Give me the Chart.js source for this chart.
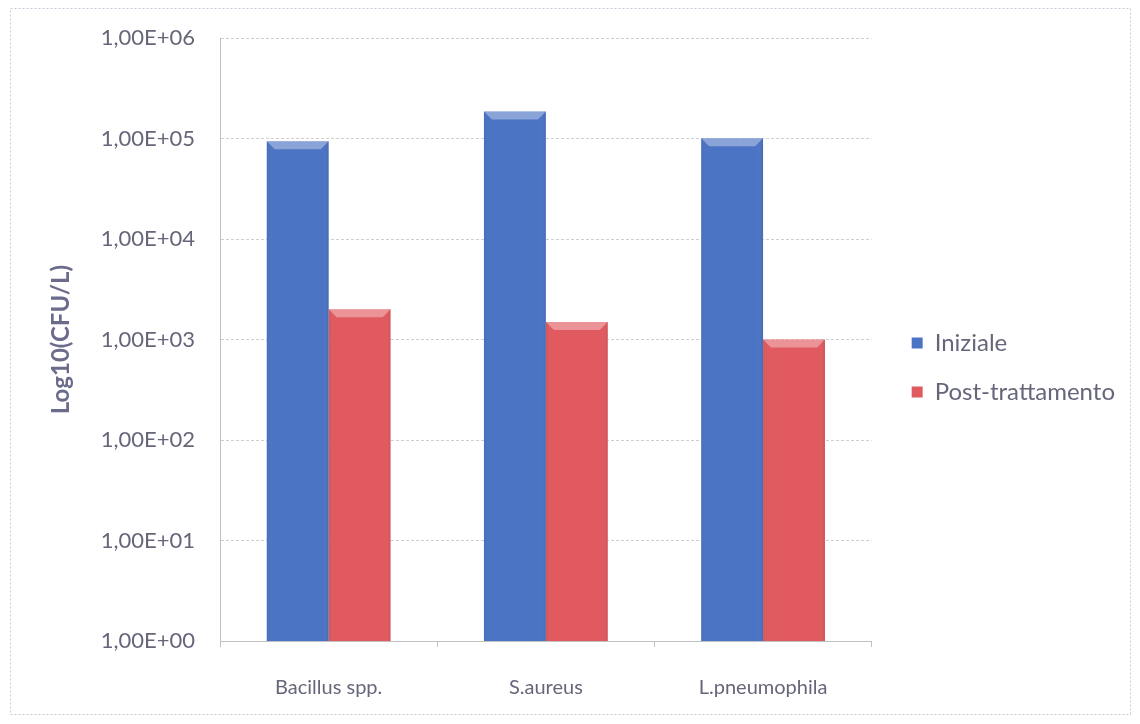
<!DOCTYPE html>
<html>
<head>
<meta charset="utf-8">
<script src="https://cdn.jsdelivr.net/npm/chart.js@4.4.1/dist/chart.umd.min.js"></script>
<style>
  html, body { margin: 0; padding: 0; background: #ffffff; }
  #wrap { width: 1140px; height: 724px; position: relative; }
</style>
</head>
<body>
<div id="wrap"><canvas id="c" width="1140" height="724"></canvas></div>
<script>
// Bacterial counts before and after treatment (CFU/L)
const categories = ['Bacillus spp.', 'S.aureus', 'L.pneumophila'];
const iniziale = [94000, 186000, 101000];
const postTrattamento = [2000, 1500, 1000];
const seriesNames = ['Iniziale', 'Post-trattamento'];
const yTickValues = [1, 10, 100, 1000, 10000, 100000, 1000000];
const yTickLabels = ['1,00E+00', '1,00E+01', '1,00E+02', '1,00E+03', '1,00E+04', '1,00E+05', '1,00E+06'];
const yTitle = 'Log10(CFU/L)';

const FONT = 'Lato, "Open Sans", sans-serif';
const TEXT = '#66667a';
const BLUE = '#4c74c4';
const RED = '#e05a5f';
const LEGEND_DX = 15;  // extra space between plot area and legend
const LEGEND_DY = -9;  // legend sits slightly above the plot's middle

// Bevelled look on top of each bar
const bevel = {
  id: 'bevel',
  afterDatasetsDraw(chart) {
    const ctx = chart.ctx;
    chart.data.datasets.forEach((ds, di) => {
      const meta = chart.getDatasetMeta(di);
      meta.data.forEach(bar => {
        const w = bar.width, l = bar.x - w / 2, r = bar.x + w / 2, t = bar.y, b = bar.base;
        const d = 8;
        ctx.save();
        ctx.beginPath();
        ctx.moveTo(l, t); ctx.lineTo(r, t); ctx.lineTo(r - d, t + d); ctx.lineTo(l + d, t + d); ctx.closePath();
        ctx.fillStyle = 'rgba(255,255,255,0.35)';
        ctx.fill();
        const g = ctx.createLinearGradient(l, 0, r, 0);
        g.addColorStop(0, 'rgba(0,0,0,0.06)');
        g.addColorStop(0.1, 'rgba(255,255,255,0.0)');
        g.addColorStop(0.9, 'rgba(255,255,255,0.0)');
        g.addColorStop(1, 'rgba(0,0,0,0.08)');
        ctx.fillStyle = g;
        ctx.fillRect(l, t, w, b - t);
        ctx.restore();
      });
    });
  }
};

// Dashed frame around the whole chart
const frame = {
  id: 'frame',
  beforeDraw(chart) {
    const ctx = chart.ctx;
    ctx.save();
    ctx.fillStyle = '#ffffff';
    ctx.fillRect(0, 0, chart.width, chart.height);
    ctx.setLineDash([2, 2]);
    ctx.strokeStyle = '#c6c8d8';
    ctx.lineWidth = 1;
    ctx.strokeRect(10.5, 8.5, 1120, 706);
    ctx.restore();
  }
};

// Nudge the legend box after layout
const legendShift = {
  id: 'legendShift',
  afterLayout(chart) {
    const lg = chart.legend;
    if (lg) {
      lg.left += LEGEND_DX; lg.right += LEGEND_DX;
      lg.top += LEGEND_DY; lg.bottom += LEGEND_DY;
    }
  }
};

new Chart(document.getElementById('c'), {
  type: 'bar',
  data: {
    labels: categories,
    datasets: [
      { label: seriesNames[0], data: iniziale, backgroundColor: BLUE, borderWidth: 0 },
      { label: seriesNames[1], data: postTrattamento, backgroundColor: RED, borderWidth: 0 }
    ]
  },
  options: {
    responsive: false,
    animation: false,
    layout: { padding: { top: 24, right: 30, bottom: -5, left: 42 } },
    datasets: { bar: { categoryPercentage: 0.57, barPercentage: 1.0 } },
    plugins: {
      tooltip: { enabled: false },
      legend: {
        position: 'right',
        align: 'center',
        labels: {
          font: { family: FONT, size: 24 },
          color: TEXT,
          boxWidth: 11,
          boxHeight: 11,
          padding: 25
        }
      }
    },
    scales: {
      x: {
        grid: { display: true, drawOnChartArea: false, offset: true, tickLength: 6, color: '#c0c0c0' },
        border: { display: true, color: '#c0c0c0', dash: [3, 2] },
        ticks: { font: { family: FONT, size: 20 }, color: TEXT, padding: 29 }
      },
      y: {
        type: 'logarithmic',
        min: 1,
        max: 1000000,
        afterBuildTicks(scale) { scale.ticks = yTickValues.map(v => ({ value: v })); },
        ticks: {
          font: { family: FONT, size: 22 },
          color: TEXT,
          padding: 25,
          callback(v) { const i = yTickValues.indexOf(v); return i >= 0 ? yTickLabels[i] : ''; }
        },
        grid: { color: '#cfcfcf', tickLength: 0 },
        border: { display: true, color: '#c0c0c0', dash: [3, 2] },
        title: {
          display: true,
          text: yTitle,
          font: { family: FONT, size: 24, weight: 'bold' },
          color: '#6b6b8c',
          padding: { top: 5, bottom: 0 }
        }
      }
    }
  },
  plugins: [frame, legendShift, bevel]
});
</script>
</body>
</html>
